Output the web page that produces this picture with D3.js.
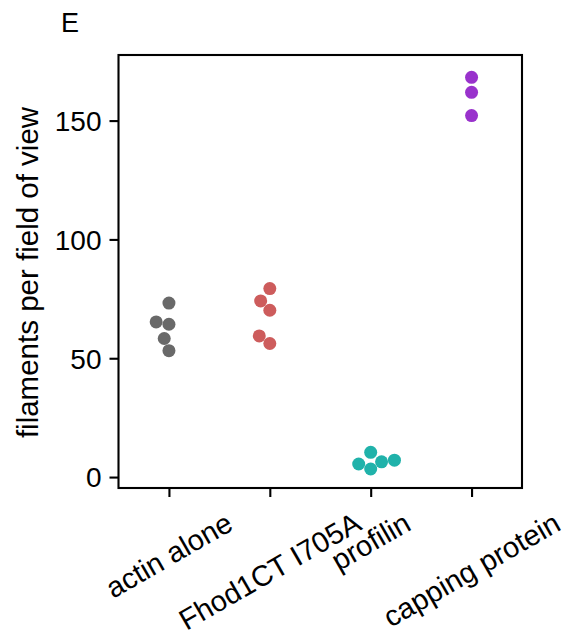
<!DOCTYPE html>
<html>
<head>
<meta charset="utf-8">
<script src="https://cdn.jsdelivr.net/npm/d3@7"></script>
<style>
  html, body { margin: 0; padding: 0; background: #fff; }
  svg { display: block; font-family: "Liberation Sans", Arial, sans-serif; }
</style>
</head>
<body>
<svg id="chart" width="566" height="640"></svg>
<script>
// Filament counts per field of view, one entry per replicate
const categories = ["actin alone", "Fhod1CT I705A", "profilin", "capping protein"];
const actinAlone = [73.2, 65.3, 64.3, 58.3, 53.2];
const fhod1ct = [79.3, 74.1, 70.2, 59.4, 56.2];
const profilin = [10.4, 7.1, 6.4, 5.5, 3.4];
const cappingProtein = [168.2, 161.9, 152.1];
const seriesValues = [actinAlone, fhod1ct, profilin, cappingProtein];
const colors = ["#696969", "#cd5c5c", "#20b2aa", "#9932cc"];
const yTicks = [0, 50, 100, 150];
const yLabel = "filaments per field of view";
const panelLabel = "E";

const W = 566, H = 640;
const box = { left: 118.5, right: 522, top: 55, bottom: 488 };
const tickFont = 28, labelFont = 29.5, xLabelFont = 29;
const tickLen = 9, tickPad = 9;
const radius = 6.5;

const svg = d3.select("#chart");

const x = d3.scalePoint().domain(categories).range([box.left, box.right]).padding(0.5);
const y = d3.scaleLinear().domain([-4.6, 177.6]).range([box.bottom, box.top]);

// Beeswarm layout: place points in order of value, at the centre if free,
// otherwise at the nearest candidate offset that touches a placed neighbour.
function swarm(values, cx) {
  const d = radius * 2;
  const pts = values.map(v => ({ v, py: y(v) })).sort((a, b) => a.v - b.v);
  const placed = [];
  pts.forEach(p => {
    const nb = placed.filter(q => Math.abs(q.py - p.py) < d);
    const cands = [cx];
    nb.forEach(q => {
      const dy = q.py - p.py;
      const dx = Math.sqrt(Math.max(0, d * d - dy * dy));
      cands.push(q.px - dx, q.px + dx);
    });
    const order = cands.map((c, i) => ({ c, i }))
      .sort((a, b) => (Math.abs(a.c - cx) - Math.abs(b.c - cx)) || (a.i - b.i));
    let chosen = cx;
    for (const o of order) {
      const ok = nb.every(q => {
        const dx = q.px - o.c, dy = q.py - p.py;
        return dx * dx + dy * dy - d * d > -1e-6;
      });
      if (ok) { chosen = o.c; break; }
    }
    p.px = chosen;
    placed.push(p);
  });
  return placed;
}

// Points
categories.forEach((cat, i) => {
  const pts = swarm(seriesValues[i], x(cat));
  svg.append("g")
    .selectAll("circle")
    .data(pts)
    .join("circle")
    .attr("cx", p => p.px)
    .attr("cy", p => p.py)
    .attr("r", radius)
    .attr("fill", colors[i]);
});

// Frame
svg.append("rect")
  .attr("x", box.left).attr("y", box.top)
  .attr("width", box.right - box.left).attr("height", box.bottom - box.top)
  .attr("fill", "none").attr("stroke", "#000").attr("stroke-width", 2.1);

// Y axis
const yAxis = svg.append("g").attr("transform", `translate(${box.left},0)`)
  .call(d3.axisLeft(y).tickValues(yTicks).tickSize(tickLen).tickPadding(tickPad).tickFormat(d3.format("d")));
yAxis.select(".domain").remove();
yAxis.selectAll(".tick line").attr("stroke", "#000").attr("stroke-width", 2.1);
yAxis.selectAll(".tick text")
  .attr("font-size", tickFont).attr("font-family", "Liberation Sans, Arial, sans-serif")
  .attr("fill", "#000").attr("x", -(tickLen + tickPad) + 1).attr("dy", "0.35em");

// X axis ticks
const xAxis = svg.append("g").attr("transform", `translate(0,${box.bottom})`)
  .call(d3.axisBottom(x).tickSize(tickLen).tickFormat(""));
xAxis.select(".domain").remove();
xAxis.selectAll(".tick line").attr("stroke", "#000").attr("stroke-width", 2.1);

// X tick labels, rotated 30 degrees and centred under their ticks
const labelTop = box.bottom + 18;
const ang = 30 * Math.PI / 180;
const lineH = xLabelFont * 1.12;
categories.forEach(cat => {
  const t = svg.append("text")
    .attr("font-size", xLabelFont)
    .attr("text-anchor", "middle")
    .attr("fill", "#000")
    .text(cat);
  const w = t.node().getComputedTextLength();
  const bh = w * Math.sin(ang) + lineH * Math.cos(ang);
  const cy = labelTop + bh / 2;
  t.attr("transform", `translate(${x(cat)},${cy}) rotate(-30)`)
   .attr("dy", "0.35em");
});

// Y axis label
svg.append("text")
  .attr("font-size", labelFont)
  .attr("text-anchor", "middle")
  .attr("fill", "#000")
  .attr("transform", `translate(38,${(box.top + box.bottom) / 2 + 1}) rotate(-90)`)
  .text(yLabel);

// Panel letter
svg.append("text")
  .attr("x", 61).attr("y", 32)
  .attr("font-size", 27)
  .attr("fill", "#000")
  .text(panelLabel);
</script>
</body>
</html>
